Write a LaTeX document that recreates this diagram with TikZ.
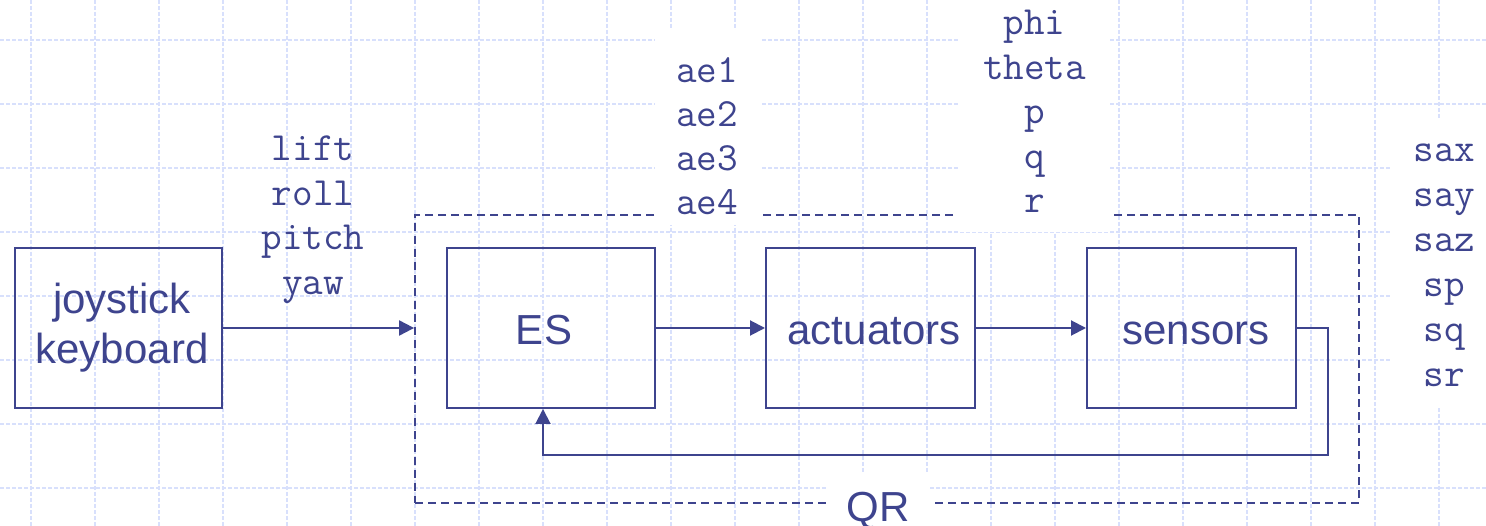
\documentclass[tikz,border=0pt]{standalone}
\usepackage{fontspec}
\setmainfont{Liberation Sans}
\usetikzlibrary{arrows.meta}
\definecolor{ink}{RGB}{62,68,142}
\definecolor{gridc}{RGB}{216,224,252}
\begin{document}
\begin{tikzpicture}[x=1pt,y=-1pt,
  box/.style={draw=ink, line width=2pt, minimum width=208pt, minimum height=160pt, inner sep=0pt, text=ink, font=\fontsize{42}{50}\selectfont, align=center},
  one/.style={text height=34pt, text depth=0pt},
  mono/.style={text=ink, font=\ttfamily\fontsize{40}{44}\selectfont, anchor=base, inner sep=0pt},
  sanslbl/.style={text=ink, font=\fontsize{42}{50}\selectfont, anchor=base, inner sep=0pt},
  arr/.style={draw=ink, line width=2pt, -{Triangle[length=15pt,width=15pt]}},
  gridl/.style={gridc, line width=1.4pt, dash pattern=on 4pt off 2pt},
  mask/.style={fill=white}]
\useasboundingbox (0,0) rectangle (1486,526);
\fill[white] (0,0) rectangle (1486,526);
% background grid
\foreach \x in {31,95,...,1439} \draw[gridl] (\x,0) -- (\x,526);
\foreach \y in {40,104,...,488} \draw[gridl] (0,\y) -- (1486,\y);
% QR frame
\node[draw=ink, line width=1.8pt, dash pattern=on 8pt off 5pt, minimum width=944pt, minimum height=288pt, inner sep=0pt] (qr) at (887,359) {};
% opaque label areas
\fill[mask] (655,30) rectangle (762,225);
\fill[mask] (958,0) rectangle (1110,232);
\fill[mask] (1390,118) rectangle (1486,408);
\fill[mask] (827,472) rectangle (930,526);
% blocks
\node[box, minimum width=207pt] (joy) at (118.5,328) {\hspace*{7pt}joystick\\\hspace*{7pt}keyboard};
\node[box, one] (es) at (551,328) {ES\hspace*{14pt}};
\node[box, one, minimum width=209pt] (act) at (870.5,328) {\hspace*{7pt}actuators};
\node[box, one, minimum width=209pt] (sen) at (1191.5,328) {\hspace*{9pt}sensors};
\node[sanslbl] (qrl) at (878,521) {QR};
% connectors
\draw[arr] (joy.east) -- (joy.east -| qr.west);
\draw[arr] (es) -- (act);
\draw[arr] (act) -- (sen);
\coordinate (fb) at (543,455);
\draw[arr] (sen.east) -- ++(31,0) |- (fb) -- (fb |- es.south);
% signal labels
\foreach \t [count=\i] in {lift,roll,pitch,yaw}
  \node[mono] (in\i) at (313,{161+44.5*(\i-1)}) {\t};
\foreach \t [count=\i] in {ae1,ae2,ae3,ae4}
  \node[mono] (ae\i) at (707,{83+44*(\i-1)}) {\t};
\foreach \t [count=\i] in {phi,theta,p,q,r}
  \node[mono] (st\i) at (1034.5,{35+44.5*(\i-1)}) {\t};
\foreach \t [count=\i] in {sax,say,saz,sp,sq,sr}
  \node[mono] (s\i) at (1444.5,{162+45*(\i-1)}) {\t};
\end{tikzpicture}
\end{document}
